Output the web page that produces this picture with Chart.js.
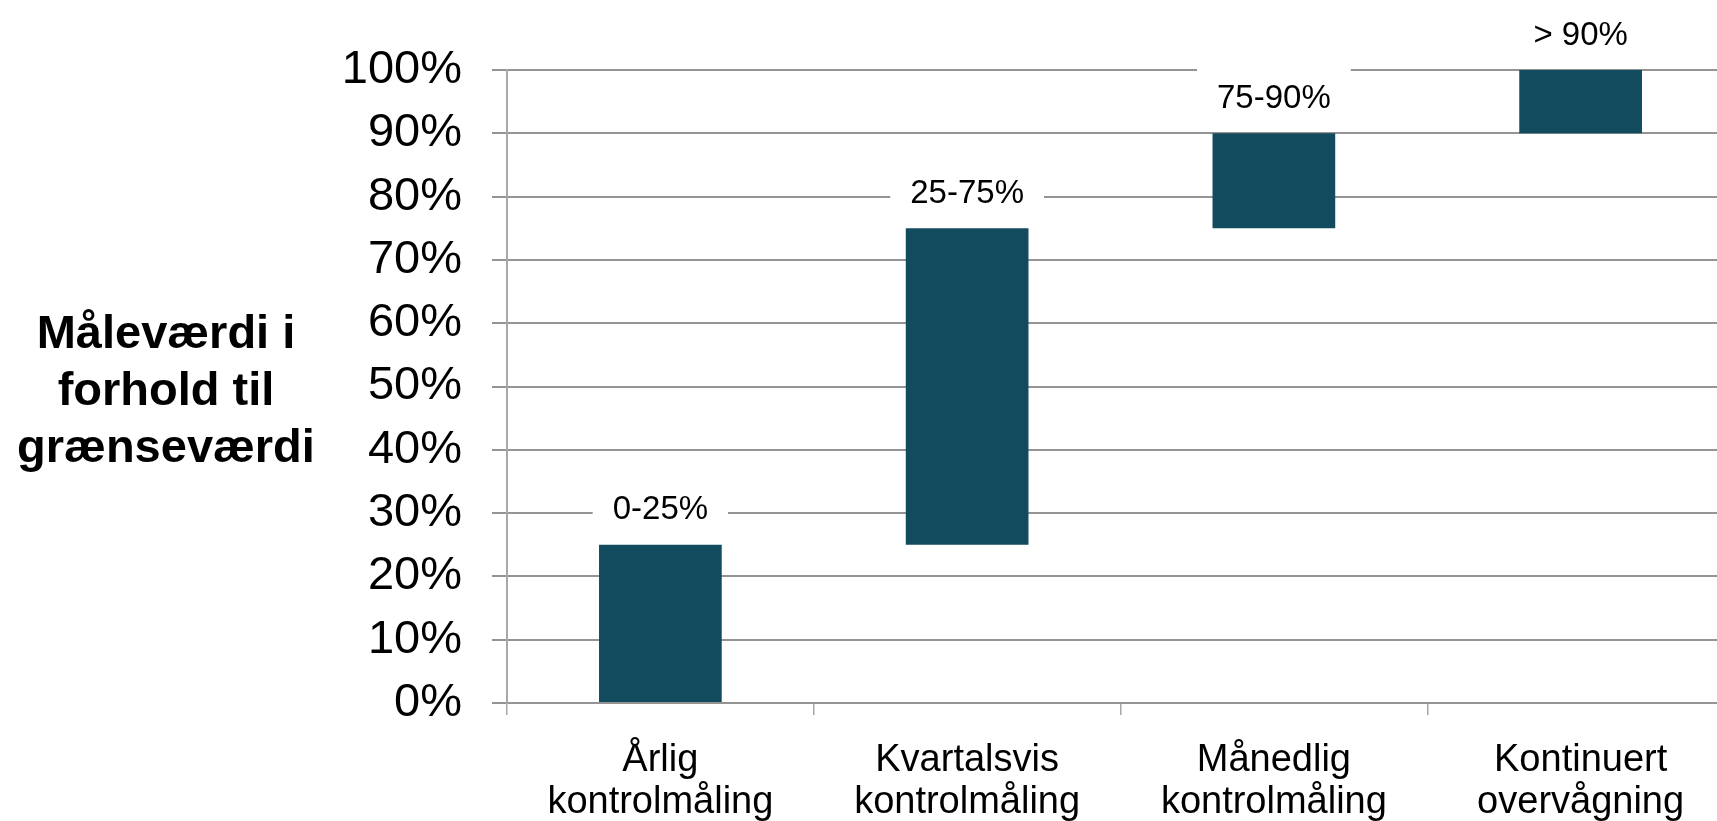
<!DOCTYPE html>
<html>
<head>
<meta charset="utf-8">
<script src="https://cdn.jsdelivr.net/npm/chart.js@4/dist/chart.umd.min.js"></script>
<style>
  html, body { margin: 0; padding: 0; background: #ffffff; overflow: hidden; }
  #wrap { position: absolute; left: 0; top: 0; width: 1734px; height: 821px; }
</style>
</head>
<body>
<div id="wrap"><canvas id="c" width="1734" height="821"></canvas></div>
<script>
// ---- data ----
const categories = [
  ["Årlig", "kontrolmåling"],
  ["Kvartalsvis", "kontrolmåling"],
  ["Månedlig", "kontrolmåling"],
  ["Kontinuert", "overvågning"]
];
const rangeStart = [0, 25, 75, 90];
const rangeEnd = [25, 75, 90, 100];
const rangeLabels = ["0-25%", "25-75%", "75-90%", "> 90%"];
const yTitleLines = ["Måleværdi i", "forhold til", "grænseværdi"];
const yTickSuffix = "%";

const FONT = "'Liberation Sans', Arial, Helvetica, sans-serif";
const barColor = "#134b5e";
const gridColor = "#949494";

const floating = rangeStart.map((s, i) => [s, rangeEnd[i]]);

const rangeLabelPlugin = {
  id: "rangeLabels",
  afterDatasetsDraw(chart) {
    const ctx = chart.ctx;
    const meta = chart.getDatasetMeta(0);
    ctx.save();
    ctx.font = "33px " + FONT;
    ctx.textAlign = "center";
    ctx.textBaseline = "middle";
    meta.data.forEach((bar, i) => {
      const top = Math.min(bar.y, bar.base);
      const cy = top - 34.5;
      const txt = rangeLabels[i];
      const w = ctx.measureText(txt).width + 40;
      const h = 60;
      ctx.fillStyle = "#ffffff";
      ctx.fillRect(bar.x - w / 2, cy - h / 2, w, h);
      ctx.fillStyle = "#000000";
      ctx.fillText(txt, bar.x, cy);
    });
    ctx.restore();
  }
};

const yTitlePlugin = {
  id: "yTitle",
  afterDraw(chart) {
    const ctx = chart.ctx;
    const area = chart.chartArea;
    const cy = (area.top + area.bottom) / 2 + 6;
    const lh = 57;
    ctx.save();
    ctx.font = "bold 47px " + FONT;
    ctx.fillStyle = "#000000";
    ctx.textAlign = "center";
    ctx.textBaseline = "middle";
    yTitleLines.forEach((line, i) => {
      ctx.fillText(line, 166, cy + (i - (yTitleLines.length - 1) / 2) * lh);
    });
    ctx.restore();
  }
};

new Chart(document.getElementById("c"), {
  type: "bar",
  data: {
    labels: categories,
    datasets: [{
      data: floating,
      backgroundColor: barColor,
      borderWidth: 0,
      barPercentage: 0.4,
      categoryPercentage: 1.0
    }]
  },
  options: {
    responsive: false,
    animation: false,
    devicePixelRatio: 1,
    layout: { padding: { top: 70, left: 0, right: 0, bottom: 0 } },
    plugins: {
      legend: { display: false },
      tooltip: { enabled: false }
    },
    scales: {
      x: {
        offset: true,
        grid: {
          offset: true,
          drawOnChartArea: false,
          drawTicks: true,
          tickLength: 12,
          color: "#a8a8a8",
          lineWidth: 1.5
        },
        border: { display: true, color: gridColor, width: 2 },
        ticks: {
          color: "#000000",
          padding: 25,
          maxRotation: 0,
          autoSkip: false,
          font: { family: FONT, size: 38, lineHeight: 1.1 }
        },
        afterFit(scale) { scale.height = 118; }
      },
      y: {
        min: 0,
        max: 100,
        grid: {
          color: gridColor,
          lineWidth: 2,
          drawTicks: true,
          tickLength: 15
        },
        border: { display: true, color: "#a8a8a8", width: 2 },
        ticks: {
          stepSize: 10,
          color: "#000000",
          padding: 30,
          font: { family: FONT, size: 47 },
          callback: (v) => v + yTickSuffix
        },
        afterFit(scale) { scale.width = 507; }
      }
    }
  },
  plugins: [rangeLabelPlugin, yTitlePlugin]
});
</script>
</body>
</html>
